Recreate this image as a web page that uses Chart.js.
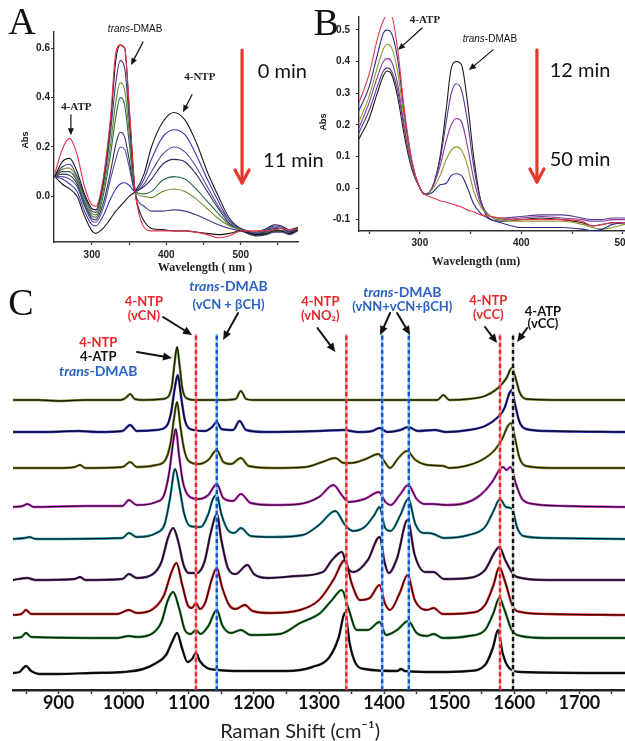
<!DOCTYPE html>
<html>
<head>
<meta charset="utf-8">
<script src="https://cdn.jsdelivr.net/npm/chart.js@4.4.0/dist/chart.umd.min.js"></script>
<style>
html,body{margin:0;padding:0;background:#fff;width:625px;height:741px;overflow:hidden;position:relative}
canvas{position:absolute}
#cA{left:0;top:0}
#cB{left:310px;top:0}
#cC{left:0;top:280px}
</style>
</head>
<body>
<canvas id="cA" width="330" height="280"></canvas>
<canvas id="cB" width="340" height="280"></canvas>
<canvas id="cC" width="625" height="461"></canvas>
<script>
// ---- panel A : UV-vis, 0 -> 11 min  [wavelength nm, Abs]
var uvA1 = [[250,0.08],[260,0.05],[270,0.03],[280,0.0],[290,-0.08],[300,-0.14],[305,-0.15],[315,-0.13],[325,-0.09],[332,-0.06],[338,-0.04],[344,-0.02],[350,0.0],[358,0.02],[370,0.09],[380,0.20],[395,0.30],[410,0.34],[425,0.31],[440,0.22],[455,0.10],[470,0.0],[485,-0.09],[500,-0.13],[520,-0.145],[535,-0.13],[545,-0.115],[555,-0.12],[565,-0.135],[577,-0.125]];
var uvA2 = [[250,0.08],[260,0.07],[270,0.05],[280,0.02],[290,-0.06],[300,-0.115],[305,-0.12],[315,-0.08],[325,-0.01],[332,0.03],[338,0.05],[344,0.055],[350,0.045],[358,0.02],[370,0.07],[380,0.15],[395,0.24],[410,0.27],[425,0.25],[440,0.17],[455,0.07],[470,-0.02],[485,-0.10],[500,-0.13],[520,-0.15],[535,-0.135],[545,-0.12],[555,-0.125],[565,-0.14],[577,-0.13]];
var uvA3 = [[250,0.08],[260,0.08],[270,0.07],[280,0.04],[290,-0.04],[300,-0.10],[305,-0.105],[315,-0.05],[325,0.07],[332,0.15],[338,0.20],[344,0.19],[350,0.12],[358,0.02],[370,0.05],[380,0.10],[395,0.17],[410,0.20],[425,0.18],[440,0.12],[455,0.04],[470,-0.04],[485,-0.10],[500,-0.135],[520,-0.15],[535,-0.14],[545,-0.125],[555,-0.13],[565,-0.14],[577,-0.13]];
var uvA4 = [[250,0.08],[260,0.09],[270,0.085],[280,0.05],[290,-0.03],[300,-0.09],[305,-0.095],[315,-0.03],[325,0.10],[332,0.21],[338,0.26],[344,0.24],[350,0.15],[358,0.02],[370,0.04],[380,0.07],[395,0.13],[410,0.15],[425,0.14],[440,0.09],[455,0.02],[470,-0.05],[485,-0.11],[500,-0.135],[520,-0.155],[535,-0.14],[545,-0.13],[555,-0.13],[565,-0.145],[577,-0.13]];
var uvA5 = [[250,0.08],[260,0.10],[270,0.10],[280,0.06],[290,-0.02],[300,-0.08],[305,-0.085],[315,0.0],[325,0.17],[332,0.32],[338,0.40],[344,0.37],[350,0.22],[358,0.02],[370,0.01],[380,0.02],[395,0.065],[410,0.08],[425,0.07],[440,0.03],[455,-0.02],[470,-0.07],[485,-0.115],[500,-0.135],[520,-0.155],[535,-0.145],[545,-0.135],[555,-0.14],[565,-0.15],[577,-0.135]];
var uvA6 = [[250,0.08],[260,0.11],[270,0.115],[280,0.07],[290,-0.01],[300,-0.07],[305,-0.075],[315,0.02],[325,0.21],[332,0.38],[338,0.46],[344,0.43],[350,0.26],[358,0.02],[370,0.0],[380,-0.005],[395,0.02],[410,0.03],[425,0.02],[440,-0.01],[455,-0.05],[470,-0.09],[485,-0.12],[500,-0.135],[520,-0.16],[535,-0.15],[545,-0.14],[555,-0.14],[565,-0.15],[577,-0.135]];
var uvA7 = [[250,0.08],[260,0.12],[270,0.13],[280,0.08],[290,0.0],[300,-0.06],[305,-0.065],[315,0.04],[325,0.26],[332,0.46],[338,0.55],[344,0.52],[350,0.31],[358,0.02],[370,-0.04],[380,-0.06],[395,-0.06],[410,-0.055],[425,-0.06],[440,-0.075],[455,-0.095],[470,-0.115],[485,-0.13],[500,-0.14],[520,-0.16],[535,-0.155],[545,-0.145],[555,-0.145],[565,-0.155],[577,-0.14]];
var uvA8 = [[250,0.08],[260,0.14],[270,0.154],[280,0.10],[290,0.01],[300,-0.05],[305,-0.055],[315,0.06],[325,0.30],[332,0.55],[338,0.613],[344,0.60],[350,0.36],[358,0.02],[364,-0.06],[370,-0.10],[380,-0.13],[395,-0.135],[410,-0.14],[425,-0.14],[440,-0.145],[455,-0.15],[470,-0.155],[485,-0.15],[500,-0.14],[520,-0.155],[535,-0.15],[545,-0.14],[555,-0.14],[565,-0.15],[577,-0.135]];
var uvA9 = [[250,0.09],[260,0.19],[270,0.235],[280,0.17],[290,0.04],[300,-0.035],[305,-0.04],[315,0.07],[325,0.32],[332,0.58],[338,0.613],[344,0.60],[350,0.37],[358,0.02],[364,-0.08],[370,-0.125],[380,-0.14],[395,-0.14],[410,-0.14],[425,-0.14],[440,-0.145],[455,-0.155],[470,-0.168],[485,-0.16],[500,-0.14],[520,-0.14],[535,-0.14],[545,-0.135],[555,-0.13],[565,-0.135],[577,-0.13]];
var ticksA_x = [300, 350, 400, 450, 500, 550];
var ticksA_y = [0, 0.2, 0.4, 0.6];

// ---- panel B : UV-vis, 12 -> 50 min
var uvB1 = [[240,0.155],[250,0.22],[258,0.30],[264,0.355],[268,0.37],[272,0.36],[278,0.29],[285,0.16],[292,0.06],[300,0.0],[305,-0.02],[312,0.0],[320,0.10],[326,0.25],[331,0.38],[336,0.40],[341,0.39],[347,0.27],[353,0.10],[360,-0.04],[370,-0.10],[380,-0.105],[400,-0.10],[420,-0.095],[440,-0.10],[460,-0.11],[470,-0.12],[480,-0.115],[490,-0.11],[502,-0.11],[517,-0.105]];
var uvB2 = [[240,0.175],[250,0.245],[258,0.32],[264,0.37],[268,0.38],[272,0.37],[278,0.31],[285,0.18],[292,0.065],[300,0.0],[305,-0.02],[312,0.0],[320,0.09],[326,0.21],[331,0.30],[336,0.33],[341,0.31],[347,0.21],[353,0.07],[360,-0.04],[370,-0.09],[380,-0.095],[400,-0.09],[420,-0.085],[440,-0.085],[460,-0.095],[470,-0.10],[480,-0.10],[490,-0.095],[502,-0.095],[517,-0.095]];
var uvB3 = [[240,0.19],[250,0.27],[258,0.35],[264,0.40],[268,0.41],[272,0.40],[278,0.33],[285,0.19],[292,0.07],[300,0.0],[305,-0.02],[312,0.0],[320,0.07],[326,0.15],[331,0.20],[336,0.22],[341,0.21],[347,0.13],[353,0.03],[360,-0.05],[370,-0.09],[380,-0.10],[400,-0.095],[420,-0.09],[440,-0.095],[460,-0.10],[470,-0.105],[480,-0.105],[490,-0.10],[502,-0.10],[517,-0.10]];
var uvB4 = [[240,0.21],[250,0.29],[258,0.38],[264,0.44],[268,0.455],[272,0.445],[278,0.37],[285,0.21],[292,0.075],[300,0.0],[305,-0.02],[312,-0.005],[320,0.04],[326,0.09],[331,0.12],[336,0.13],[341,0.12],[347,0.07],[353,-0.01],[360,-0.06],[370,-0.09],[380,-0.10],[400,-0.105],[420,-0.105],[440,-0.105],[460,-0.115],[470,-0.125],[480,-0.13],[490,-0.125],[502,-0.115],[517,-0.11]];
var uvB5 = [[240,0.245],[250,0.32],[258,0.42],[264,0.49],[268,0.50],[272,0.49],[278,0.41],[285,0.23],[292,0.085],[300,0.0],[305,-0.02],[312,-0.015],[320,0.01],[326,0.015],[331,0.04],[336,0.045],[341,0.04],[347,0.0],[353,-0.05],[360,-0.08],[370,-0.10],[380,-0.11],[400,-0.125],[420,-0.125],[440,-0.125],[460,-0.13],[470,-0.135],[480,-0.13],[490,-0.115],[502,-0.11],[517,-0.105]];
var uvB6 = [[240,0.27],[250,0.36],[258,0.47],[264,0.53],[268,0.548],[272,0.545],[278,0.44],[285,0.24],[292,0.09],[300,0.0],[305,-0.02],[312,-0.03],[320,-0.04],[326,-0.045],[331,-0.05],[336,-0.055],[341,-0.06],[347,-0.07],[353,-0.075],[360,-0.085],[370,-0.09],[380,-0.095],[400,-0.10],[420,-0.10],[440,-0.10],[460,-0.105],[470,-0.12],[480,-0.115],[490,-0.11],[502,-0.11],[517,-0.11]];
var ticksB_x = [250, 300, 350, 400, 450, 500];
var ticksB_y = [-0.1, 0, 0.1, 0.2, 0.3, 0.4, 0.5];

// ---- panel C : SERS spectra, intensity above each trace's own baseline
var ramanT1 = [[830,0],[870,0],[900,-1],[940,0],[995,0],[1003,2],[1010,6],[1017,1],[1030,0],[1060,1],[1068,3],[1074,14],[1078,36],[1082,53],[1086,34],[1090,12],[1096,2],[1110,0],[1150,0],[1172,1],[1180,9],[1188,1],[1200,0],[1300,0],[1400,0],[1482,0],[1491,5],[1500,0],[1530,1],[1555,4],[1575,12],[1588,22],[1596,32],[1602,22],[1608,8],[1618,1],[1680,0],[1770,0]];
var ramanT2 = [[830,0],[880,0],[930,1],[960,0],[998,1],[1010,7],[1020,1],[1050,2],[1066,6],[1073,20],[1078,42],[1083,57],[1088,36],[1094,12],[1102,3],[1125,1],[1136,5],[1143,10],[1150,3],[1168,2],[1178,11],[1188,2],[1220,0],[1300,1],[1338,2],[1360,0],[1382,1],[1393,4],[1405,0],[1425,2],[1437,5],[1452,1],[1478,2],[1495,0],[1530,2],[1555,6],[1575,15],[1585,24],[1592,38],[1596,42],[1601,28],[1608,10],[1618,3],[1650,1],[1770,0]];
var ramanT3 = [[830,0],[900,0],[925,1],[933,3],[941,0],[998,1],[1010,6],[1020,1],[1050,3],[1064,8],[1072,25],[1077,48],[1082,66],[1087,42],[1093,18],[1100,7],[1115,4],[1130,8],[1143,18],[1153,6],[1165,4],[1180,10],[1192,2],[1230,0],[1280,1],[1305,6],[1325,10],[1338,5],[1350,5],[1372,9],[1391,14],[1400,7],[1409,0],[1422,10],[1435,17],[1448,8],[1466,3],[1491,2],[1500,0],[1525,2],[1550,8],[1570,18],[1582,30],[1590,42],[1595,45],[1601,30],[1608,10],[1618,2],[1660,0],[1770,0]];
var ramanT4 = [[830,0],[845,1],[852,3],[862,0],[940,1],[998,1],[1008,7],[1020,2],[1050,5],[1062,12],[1070,35],[1075,60],[1080,78],[1085,52],[1091,25],[1100,11],[1115,8],[1130,12],[1143,23],[1153,9],[1168,6],[1180,13],[1195,4],[1230,2],[1270,3],[1300,10],[1322,22],[1335,12],[1345,5],[1370,8],[1392,15],[1402,5],[1410,2],[1424,12],[1437,22],[1450,8],[1462,3],[1476,3],[1495,2],[1525,4],[1548,12],[1566,25],[1578,38],[1583,40],[1588,37],[1594,40],[1603,22],[1612,8],[1630,3],[1680,1],[1770,0]];
var ramanT5 = [[830,0],[848,1],[855,2],[865,0],[998,1],[1008,6],[1020,2],[1050,6],[1063,15],[1071,40],[1079,70],[1086,50],[1093,25],[1102,13],[1118,12],[1130,25],[1137,40],[1143,44],[1150,25],[1160,9],[1170,6],[1180,11],[1195,3],[1230,2],[1275,4],[1300,14],[1325,28],[1340,14],[1352,8],[1370,12],[1385,24],[1393,32],[1401,12],[1410,8],[1425,24],[1437,40],[1448,15],[1460,6],[1468,6],[1476,5],[1492,1],[1530,4],[1555,12],[1568,28],[1578,40],[1587,32],[1597,30],[1604,12],[1614,3],[1650,1],[1770,0]];
var ramanT6 = [[830,0],[852,2],[865,0],[925,1],[933,3],[941,0],[998,1],[1008,6],[1020,2],[1045,6],[1058,18],[1068,42],[1076,52],[1084,38],[1092,15],[1100,7],[1112,7],[1124,18],[1134,48],[1143,66],[1150,40],[1160,12],[1172,6],[1190,15],[1200,6],[1222,2],[1265,4],[1306,8],[1320,20],[1335,28],[1344,12],[1353,8],[1375,20],[1393,43],[1401,17],[1407,7],[1420,22],[1436,60],[1447,25],[1463,8],[1476,8],[1492,1],[1530,2],[1555,10],[1570,28],[1577,33],[1586,20],[1596,8],[1604,3],[1650,0],[1770,0]];
var ramanT7 = [[830,0],[843,1],[850,5],[858,1],[990,1],[1008,5],[1020,2],[1045,6],[1062,20],[1073,42],[1081,52],[1090,30],[1099,9],[1105,7],[1111,12],[1117,6],[1125,12],[1135,35],[1143,47],[1151,28],[1162,10],[1172,6],[1186,10],[1198,4],[1225,2],[1271,5],[1300,15],[1322,35],[1340,55],[1350,32],[1363,15],[1378,17],[1393,30],[1401,12],[1409,5],[1424,22],[1436,40],[1447,15],[1466,5],[1476,7],[1490,1],[1530,2],[1555,10],[1568,30],[1577,48],[1585,35],[1598,8],[1610,3],[1650,1],[1770,0]];
var ramanT8 = [[830,0],[843,1],[850,5],[858,1],[990,0],[1008,2],[1020,1],[1045,5],[1058,16],[1068,38],[1076,46],[1085,30],[1094,8],[1103,4],[1111,8],[1118,4],[1130,12],[1143,28],[1152,12],[1165,5],[1180,8],[1195,3],[1240,4],[1271,15],[1302,25],[1320,38],[1335,48],[1345,30],[1358,8],[1375,8],[1393,16],[1403,3],[1420,8],[1437,17],[1450,5],[1466,2],[1476,4],[1490,0],[1530,2],[1555,8],[1568,25],[1577,40],[1585,28],[1596,8],[1610,2],[1650,0],[1770,0]];
var ramanT9 = [[830,0],[840,1],[850,7],[858,2],[870,-1],[900,-1],[950,0],[1000,1],[1030,4],[1050,10],[1065,18],[1075,32],[1082,40],[1090,24],[1098,11],[1105,14],[1111,20],[1117,12],[1128,5],[1145,3],[1180,2],[1250,2],[1290,6],[1315,15],[1330,35],[1340,60],[1347,30],[1356,10],[1370,4],[1420,2],[1426,4],[1432,2],[1480,1],[1530,2],[1555,8],[1567,25],[1575,43],[1582,20],[1592,5],[1610,1],[1770,0]];
var traceOffsets = [290, 258, 222, 183, 151, 110, 75, 52, 17];
var bandShifts = [1111, 1143, 1342, 1397, 1438, 1578, 1598];
var bandSpecies = ['NTP', 'DMAB', 'NTP', 'DMAB', 'DMAB', 'NTP', 'ATP'];
var ramanTicks = [850, 900, 950, 1000, 1050, 1100, 1150, 1200, 1250, 1300, 1350, 1400, 1450, 1500, 1550, 1600, 1650, 1700, 1750];

var RED = '#e8282b', BLUE = '#2a62c4';

function curve(points, color, width, order){
    return {data: points, borderColor: color, borderWidth: width, pointRadius: 0, fill: false,
            cubicInterpolationMode: 'monotone', order: order || 0};
}

// text + arrows drawn on top, positioned through the chart's own scales
function notes(texts, arrows){
    return {
        id: 'notes',
        afterDraw: function(chart){
            var ctx = chart.ctx, sx = chart.scales.x, sy = chart.scales.y;
            arrows.forEach(function(a){
                var x1 = sx.getPixelForValue(a.x1), y1 = sy.getPixelForValue(a.y1);
                var x2 = sx.getPixelForValue(a.x2), y2 = sy.getPixelForValue(a.y2);
                var ang = Math.atan2(y2 - y1, x2 - x1), h = a.head || 7, w = a.half || 3.2;
                ctx.save();
                ctx.strokeStyle = ctx.fillStyle = a.color || '#111';
                ctx.lineWidth = a.width || 1.5;
                ctx.lineCap = 'round'; ctx.lineJoin = 'round';
                var bx = x2 - h * Math.cos(ang), by = y2 - h * Math.sin(ang);
                ctx.beginPath();
                ctx.moveTo(x1, y1);
                ctx.lineTo(a.open ? x2 : bx, a.open ? y2 : by);
                ctx.stroke();
                var px = -Math.sin(ang) * w, py = Math.cos(ang) * w;
                ctx.beginPath();
                ctx.moveTo(bx + px, by + py);
                ctx.lineTo(x2, y2);
                ctx.lineTo(bx - px, by - py);
                if (a.open) { ctx.stroke(); } else { ctx.closePath(); ctx.fill(); }
                ctx.restore();
            });
            texts.forEach(function(t){
                ctx.save();
                ctx.translate(sx.getPixelForValue(t.x), sy.getPixelForValue(t.y));
                if (t.rotate) { ctx.rotate(t.rotate); }
                ctx.fillStyle = t.color || '#111';
                ctx.textBaseline = 'middle';
                ctx.textAlign = 'left';
                var parts = t.italic ? [[t.italic, 'italic ' + t.font], [t.text, t.font]] : [[t.text, t.font]];
                var widths = parts.map(function(p){ ctx.font = p[1]; return ctx.measureText(p[0]).width; });
                var total = widths.reduce(function(s, v){ return s + v; }, 0);
                var x = t.align === 'left' ? 0 : -total / 2;
                parts.forEach(function(p, i){ ctx.font = p[1]; ctx.fillText(p[0], x, 0); x += widths[i]; });
                ctx.restore();
            });
        }
    };
}

function uvAxes(xr, yr, xt, yt, yWidth, xHeight, yPad, xPad){
    var line = {display: true, color: '#333', width: 1.4};
    var grid = {drawOnChartArea: false, drawTicks: true, tickLength: 3, tickColor: '#333', tickWidth: 1.2};
    var tickFont = {family: 'Liberation Sans', size: 10, weight: 'bold'};
    return {
        x: {type: 'linear', min: xr[0], max: xr[1], border: line, grid: grid,
            afterBuildTicks: function(s){ s.ticks = xt.map(function(v){ return {value: v}; }); },
            afterFit: function(s){ s.height = xHeight; },
            ticks: {font: tickFont, color: '#222', padding: xPad, maxRotation: 0, autoSkip: false,
                    callback: function(v){ return v % 100 === 0 ? String(v) : ''; }}},
        y: {type: 'linear', min: yr[0], max: yr[1], border: line, grid: grid,
            afterBuildTicks: function(s){ s.ticks = yt.map(function(v){ return {value: v}; }); },
            afterFit: function(s){ s.width = yWidth; },
            ticks: {font: tickFont, color: '#222', padding: yPad,
                    callback: function(v){ return v.toFixed(1); }}}
    };
}

var base = {responsive: false, animation: false, events: [],
            plugins: {legend: {display: false}, tooltip: {enabled: false}}};
function opts(extra){ return Object.assign({}, base, extra); }

// ---------- A
var colorsA = ['#1b1b1b', '#3838b0', '#5b4a9a', '#2f2f60', '#2e6b4a', '#6b8a2a', '#3d3d8a', '#141414', '#e0344c'];
var setsA = [uvA1, uvA2, uvA3, uvA4, uvA5, uvA6, uvA7, uvA8, uvA9].map(function(d, i){
    return curve(d, colorsA[i], 1.1, 9 - i);
});
new Chart(document.getElementById('cA'), {
    type: 'line',
    data: {datasets: setsA},
    options: opts({
        layout: {padding: {top: 32, right: 32, left: 0, bottom: 0}},
        scales: uvAxes([249, 577], [-0.185, 0.666], ticksA_x, ticksA_y, 54, 38, 1, 4)
    }),
    plugins: [notes([
        {x: 206, y: 0.698, text: 'A', font: '38px Liberation Serif'},
        {x: 358, y: 0.678, italic: 'trans', text: '-DMAB', font: '10px Liberation Sans'},
        {x: 279, y: 0.362, text: '4-ATP', font: 'bold 11px Liberation Serif', color: '#222'},
        {x: 445, y: 0.484, text: '4-NTP', font: 'bold 11px Liberation Serif', color: '#222'},
        {x: 523, y: 0.504, text: '0 min', font: '20px Lato', align: 'left'},
        {x: 530, y: 0.147, text: '11 min', font: '20px Lato', align: 'left'},
        {x: 211, y: 0.228, text: 'Abs', font: 'bold 9px Liberation Sans', rotate: -Math.PI / 2},
        {x: 452, y: -0.291, text: 'Wavelength ( nm )', font: 'bold 12px Liberation Serif', color: '#222'}
    ], [
        {x1: 368.6, y1: 0.625, x2: 352.5, y2: 0.532, head: 7, half: 3, width: 1.2},
        {x1: 271.7, y1: 0.33, x2: 271.7, y2: 0.248, head: 7, half: 3, width: 1.2},
        {x1: 434.5, y1: 0.412, x2: 422.4, y2: 0.341, head: 7, half: 3, width: 1.2},
        {x1: 501.8, y1: 0.593, x2: 501.8, y2: 0.054, color: '#e8382d', width: 3.2, open: true, head: 13, half: 7}
    ])]
});

// ---------- B
var colorsB = ['#1b1b1b', '#5a3a8a', '#8a3aa0', '#8a9a2a', '#2a2a8a', '#e8364a'];
var setsB = [uvB1, uvB2, uvB3, uvB4, uvB5, uvB6].map(function(d, i){
    return curve(d, colorsB[i], 1.1, 6 - i);
});
new Chart(document.getElementById('cB'), {
    type: 'line',
    data: {datasets: setsB},
    options: opts({
        layout: {padding: {top: 17, right: 10, left: 0, bottom: 0}},
        scales: uvAxes([240, 517], [-0.136, 0.541], ticksB_x, ticksB_y, 49, 49, 6, 3)
    }),
    plugins: [notes([
        {x: 207.7, y: 0.516, text: 'B', font: '38px Liberation Serif'},
        {x: 305, y: 0.532, text: '4-ATP', font: 'bold 11px Liberation Serif', color: '#222'},
        {x: 369, y: 0.472, italic: 'trans', text: '-DMAB', font: '10px Liberation Sans'},
        {x: 428, y: 0.373, text: '12 min', font: '20px Lato', align: 'left'},
        {x: 428, y: 0.089, text: '50 min', font: '20px Lato', align: 'left'},
        {x: 204.7, y: 0.209, text: 'Abs', font: 'bold 9px Liberation Sans', rotate: -Math.PI / 2},
        {x: 355.3, y: -0.234, text: 'Wavelength (nm)', font: 'bold 12px Liberation Serif', color: '#222'}
    ], [
        {x1: 302.2, y1: 0.506, x2: 278.5, y2: 0.437, head: 7, half: 3, width: 1.2},
        {x1: 372, y1: 0.437, x2: 348.4, y2: 0.373, head: 7, half: 3, width: 1.2},
        {x1: 415.4, y1: 0.437, x2: 415.4, y2: 0.019, color: '#e8382d', width: 3.2, open: true, head: 13, half: 7}
    ])]
});

// ---------- C
var colorsC = ['#5d7a1e', '#2b2bb0', '#7a7a1a', '#c030c0', '#1c8c9c', '#5a2a6a', '#d01e1e', '#1f7a2a', '#1a1a1a'];
var traces = [ramanT1, ramanT2, ramanT3, ramanT4, ramanT5, ramanT6, ramanT7, ramanT8, ramanT9];
var bandStyle = {NTP: [RED, '#f4a0a0'], DMAB: ['#1f4fc0', '#7cc4f0'], ATP: ['#111', '#cccccc']};
var bandTop = 356;
var setsC = [];
bandShifts.forEach(function(s, i){
    var st = bandStyle[bandSpecies[i]], pts = [[s, 0], [s, bandTop]];
    var under = curve(pts, st[1], 2.4, 1);
    var over = curve(pts, st[0], 2.4, 0);
    over.borderDash = [4, 3];
    setsC.push(over, under);
});
traces.forEach(function(t, i){
    var pts = t.map(function(p){ return [p[0], p[1] + traceOffsets[i]]; });
    setsC.push(curve(pts, '#000', 0.9, 2));
    setsC.push(curve(pts, colorsC[i], 2.4, 3));
});
new Chart(document.getElementById('cC'), {
    type: 'line',
    data: {datasets: setsC},
    options: opts({
        layout: {padding: {top: 0, right: 0, left: 13, bottom: 0}},
        scales: {
            x: {type: 'linear', min: 830, max: 1770,
                border: {display: true, color: '#222', width: 2.6},
                grid: {drawOnChartArea: false, drawTicks: true, tickLength: 4, tickColor: '#333', tickWidth: 1.5},
                afterBuildTicks: function(s){ s.ticks = ramanTicks.map(function(v){ return {value: v}; }); },
                afterFit: function(s){ s.height = 51; },
                ticks: {font: {family: 'Lato', size: 18, weight: 'bold'}, color: '#111', padding: -2,
                         maxRotation: 0, autoSkip: false,
                         callback: function(v){ return v % 100 === 0 ? String(v) : ''; }}},
            y: {type: 'linear', min: 0, max: 410, display: false}
        }
    }),
    plugins: [notes([
        {x: 842, y: 385, text: 'C', font: '38px Liberation Serif'},
        {x: 1031, y: 388, text: '4-NTP', font: 'bold 13px Lato', color: RED},
        {x: 1031, y: 374, text: '(vCN)', font: 'bold 13px Lato', color: RED},
        {x: 1161, y: 404, italic: 'trans', text: '-DMAB', font: 'bold 14px Lato', color: BLUE},
        {x: 1161, y: 385, text: '(vCN + βCH)', font: 'bold 13px Lato', color: BLUE},
        {x: 961, y: 347, text: '4-NTP', font: 'bold 13px Lato', color: RED},
        {x: 961, y: 333, text: '4-ATP', font: 'bold 13px Lato', color: '#111'},
        {x: 961, y: 319, italic: 'trans', text: '-DMAB', font: 'bold 14px Lato', color: BLUE},
        {x: 1302, y: 388, text: '4-NTP', font: 'bold 13px Lato', color: RED},
        {x: 1302, y: 374, text: '(vNO\u2082)', font: 'bold 13px Lato', color: RED},
        {x: 1428, y: 398, italic: 'trans', text: '-DMAB', font: 'bold 14px Lato', color: BLUE},
        {x: 1428, y: 383, text: '(vNN+vCN+βCH)', font: 'bold 13px Lato', color: BLUE},
        {x: 1560, y: 389, text: '4-NTP', font: 'bold 13px Lato', color: RED},
        {x: 1560, y: 375, text: '(vCC)', font: 'bold 13px Lato', color: RED},
        {x: 1644, y: 378, text: '4-ATP', font: 'bold 13px Lato', color: '#111'},
        {x: 1644, y: 366, text: '(vCC)', font: 'bold 13px Lato', color: '#111'},
        {x: 1271, y: -42, text: 'Raman Shift (cm\u207B\u00B9)', font: '20px Lato', color: '#222'}
    ], [
        {x1: 1020.6, y1: 338, x2: 1074.3, y2: 332, width: 2, head: 9, half: 4},
        {x1: 1060.5, y1: 373, x2: 1105, y2: 355, width: 2, head: 9, half: 4},
        {x1: 1175.7, y1: 377, x2: 1152.7, y2: 350, width: 2, head: 9, half: 4},
        {x1: 1297.6, y1: 362, x2: 1325.2, y2: 338, width: 2, head: 9, half: 4},
        {x1: 1409.2, y1: 377, x2: 1393.9, y2: 355, width: 2, head: 9, half: 4},
        {x1: 1420, y1: 377, x2: 1440, y2: 355, width: 2, head: 9, half: 4},
        {x1: 1555, y1: 363, x2: 1573.6, y2: 347, width: 2, head: 9, half: 4},
        {x1: 1619.7, y1: 362, x2: 1604.3, y2: 348, width: 2, head: 9, half: 4}
    ])]
});
</script>
</body>
</html>
